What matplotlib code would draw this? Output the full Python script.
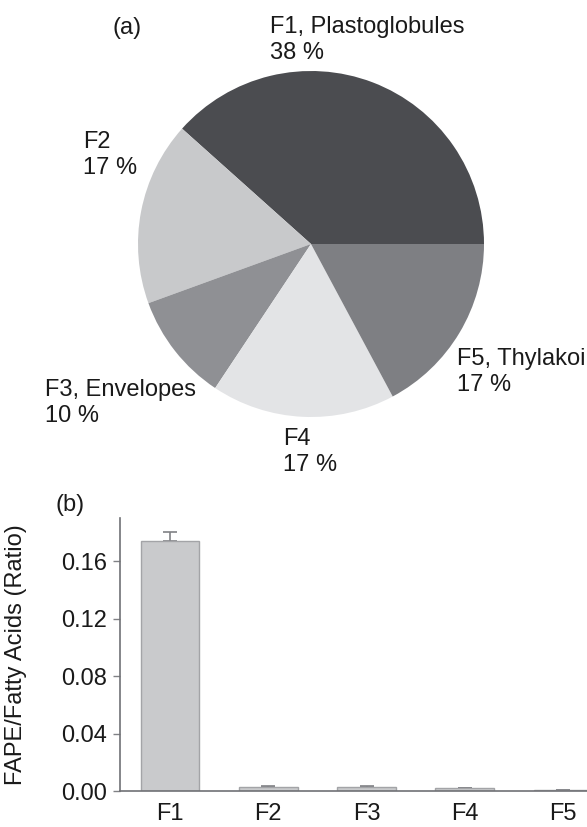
import numpy as np
import matplotlib
matplotlib.use("Agg")
import matplotlib.pyplot as plt

plt.rcParams['font.family'] = ['Liberation Sans', 'DejaVu Sans']

# pie data (a)
pie_names = ['F1, Plastoglobules', 'F2', 'F3, Envelopes', 'F4', 'F5, Thylakoi']
pie_pct = [38, 17, 10, 17, 17]
pie_colors = ['#4b4c50', '#c8c9cb', '#8f9094', '#e3e4e6', '#7e7f83']

# bar data (b)
bar_names = ['F1', 'F2', 'F3', 'F4', 'F5']
bar_vals = [0.174, 0.003, 0.003, 0.0018, 0.0005]
bar_err = [0.006, 0.0003, 0.0003, 0.0002, 0.0001]
y_ticks = [0.00, 0.04, 0.08, 0.12, 0.16]

fs = 17
fig = plt.figure(figsize=(5.87, 8.27), dpi=100)

# ---- (a) pie
ax1 = fig.add_axes([138 / 587, 1 - 417 / 827, 346 / 587, 346 / 827])
ax1.pie(pie_pct, colors=pie_colors, startangle=0, counterclock=True,
        radius=1.0, wedgeprops=dict(linewidth=0))
ax1.set_xlim(-1, 1)
ax1.set_ylim(-1, 1)
ax1.set_aspect('equal')
ax1.axis('off')

label_pos = [(-0.237, 1.18), (-1.318, 0.514), (-1.538, -0.919),
             (-0.162, -1.202), (0.844, -0.740)]
for name, pct, (lx, ly) in zip(pie_names, pie_pct, label_pos):
    ax1.text(lx, ly, f'{name}\n{pct} %', ha='left', va='center',
             fontsize=fs, linespacing=1.25, color='#1a1a1a', clip_on=False)

fig.text(127 / 587, 1 - 28 / 827, '(a)', ha='center', va='center',
         fontsize=fs, color='#1a1a1a')

# ---- (b) bars
ax2 = fig.add_axes([120 / 587, 1 - 791 / 827, 467 / 587, 273 / 827])
x = np.arange(len(bar_names))
ax2.errorbar(x, bar_vals, yerr=[np.zeros(len(bar_err)), bar_err], fmt='none',
             ecolor='#808185', elinewidth=1.2, capsize=5, capthick=1.2, zorder=1)
ax2.bar(x, bar_vals, width=0.6, color='#c9cacc', edgecolor='#a3a4a7',
        linewidth=1.0, zorder=2)
ax2.set_xlim(-0.509, 4.244)
ax2.set_ylim(0, 0.19)
ax2.set_xticks(x)
ax2.set_xticklabels(bar_names, fontsize=fs, color='#1a1a1a')
ax2.set_yticks(y_ticks)
ax2.set_yticklabels([f'{t:.2f}' for t in y_ticks], fontsize=fs, color='#1a1a1a')
ax2.tick_params(axis='x', length=0, pad=9)
ax2.tick_params(axis='y', length=5, width=1, color='#808185', pad=4, direction='out')
for s in ['top', 'right']:
    ax2.spines[s].set_visible(False)
for s in ['left', 'bottom']:
    ax2.spines[s].set_color('#707175')
    ax2.spines[s].set_linewidth(1.2)
    ax2.spines[s].set_zorder(3)
ax2.set_ylabel('FAPE/Fatty Acids (Ratio)', fontsize=fs, color='#1a1a1a')
ax2.yaxis.set_label_coords(-(120 - 27) / 467, 0.5)

fig.text(70 / 587, 1 - 505 / 827, '(b)', ha='center', va='center',
         fontsize=fs, color='#1a1a1a')

fig.savefig('out.png', dpi=100, facecolor='white')
